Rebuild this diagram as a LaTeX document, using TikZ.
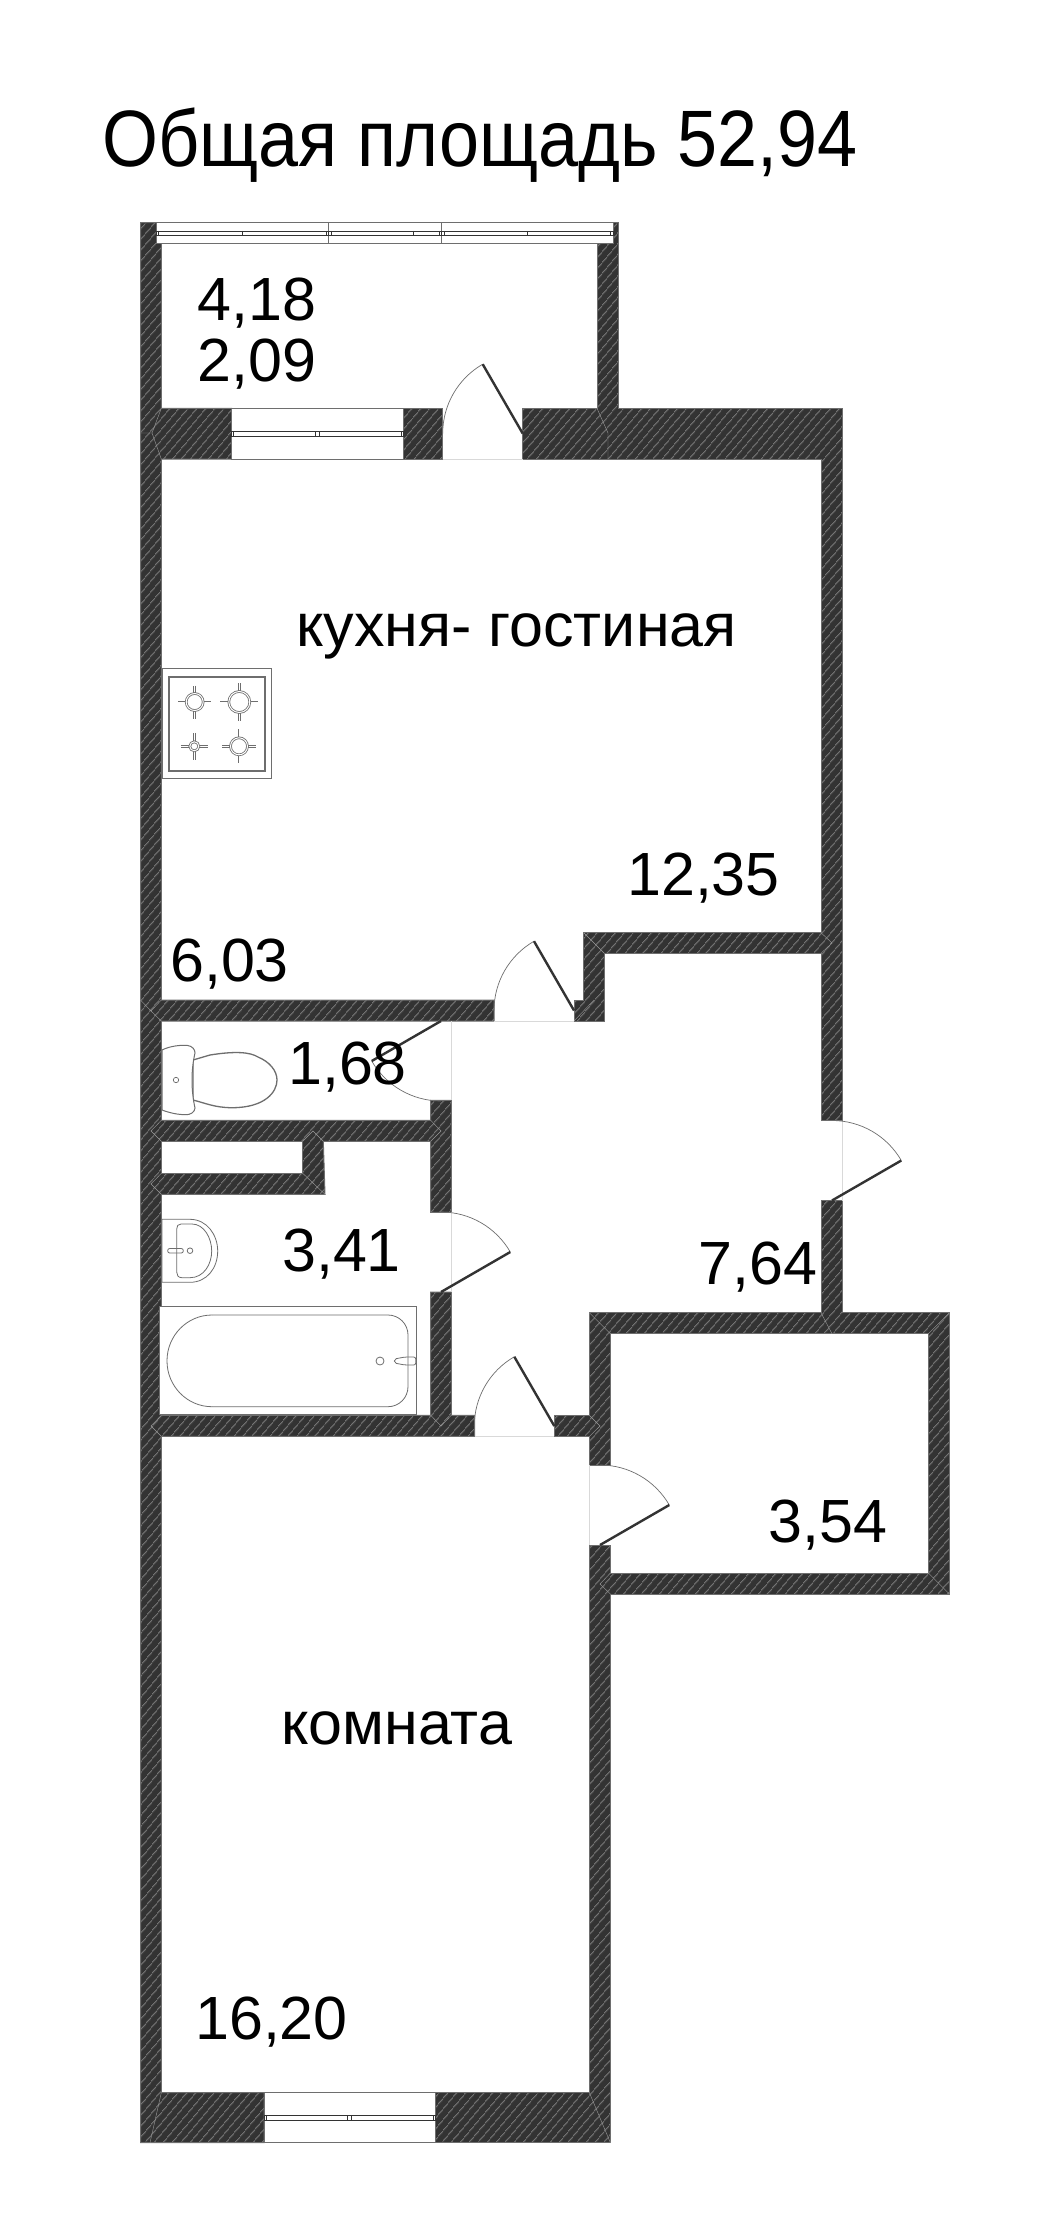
\documentclass[tikz,border=0pt]{standalone}
\usepackage{fontspec}
\setmainfont{Liberation Sans}
\usepackage{tikz}
\usetikzlibrary{patterns.meta}
\definecolor{walldark}{HTML}{333333}
\definecolor{wallline}{HTML}{6E6E6E}
\definecolor{hatchline}{HTML}{9A9A9A}
\tikzset{
  wall/.style={draw=wallline, line width=1pt, preaction={fill=walldark},
    pattern={Lines[angle=50, distance=6.5pt, line width=.6pt]}, pattern color=hatchline},
  wallseam/.style={draw=hatchline, line width=.4pt},
  opening/.style={fill=white, draw=wallline, line width=.8pt},
  sash/.style={draw=walldark, line width=.8pt, fill=white},
  doorleaf/.style={draw=walldark, line width=2.4pt},
  doorarc/.style={draw=wallline, line width=.7pt},
  threshold/.style={draw=black!15, line width=.6pt},
  fixture/.style={draw=wallline, line width=1pt, fill=white},
  burner/.style={draw=wallline, line width=.8pt, double=white, double distance=1pt},
  roomlabel/.style={anchor=base west, inner sep=0pt, font=\fontsize{61}{61}\selectfont},
  titlelabel/.style={anchor=base west, inner sep=0pt, font=\fontsize{80}{80}\selectfont}
}
\begin{document}
\begin{tikzpicture}[x=1pt, y=1pt, yscale=-1]
\path[use as bounding box, fill=white] (0,0) rectangle (1039,2218);
% walls
\path[wall] (140.5,222.7) -- (161.3,222.7) -- (161.3,408.3) -- (231.7,408.3) -- (231.7,459) -- (161.3,459)
  -- (161.3,1000) -- (494,1000) -- (494,1021) -- (161.3,1021) -- (161.3,1120.3) -- (430.7,1120.3)
  -- (430.7,1100.3) -- (451.3,1100.3) -- (451.3,1212.3) -- (430.7,1212.3) -- (430.7,1141.3) -- (323.3,1141.3)
  -- (325,1194.3) -- (161.3,1194.3) -- (161.3,1415.3) -- (430.7,1415.3) -- (430.7,1292) -- (451.3,1292)
  -- (451.3,1415.3) -- (474.7,1415.3) -- (474.7,1436.3) -- (161.3,1436.3) -- (161.3,2092.7) -- (264,2092.7)
  -- (264,2142.7) -- (140.5,2142.7) -- cycle;
\path[wall] (435.7,2092.7) -- (589.4,2092.7) -- (589.4,1545) -- (610.4,1545) -- (610.4,1573) -- (928.3,1573)
  -- (928.3,1333.8) -- (610.4,1333.8) -- (610.4,1465) -- (589.4,1465) -- (589.4,1436.4) -- (554.3,1436.4)
  -- (554.3,1415.4) -- (589.4,1415.4) -- (589.4,1312.8) -- (821,1312.8) -- (821,1200.5) -- (842,1200.5)
  -- (842,1312.8) -- (949.3,1312.8) -- (949.3,1594) -- (610.4,1594) -- (610.4,2142.7) -- (435.7,2142.7) -- cycle;
\path[wall] (522.7,408.3) -- (597,408.3) -- (597,222.7) -- (618,222.7) -- (618,408.3) -- (842,408.3)
  -- (842,1120.6) -- (821,1120.6) -- (821,953.3) -- (604.3,953.3) -- (604.3,1021) -- (574,1021) -- (574,1000)
  -- (583.7,1000) -- (583.7,932.7) -- (821,932.7) -- (821,459) -- (522.7,459) -- cycle;
\path[wall] (403.3,408.3) rectangle (442.7,459);
\draw[opening] (161.3,1141.3) rectangle (302.7,1173.3);
% joints between wall runs
\draw[wallseam] (161.3,408.3) -- (152,433) -- (161.3,459) (140.5,433) -- (152,433)
  (597,408.3) -- (608,433) -- (608,459) (161.3,1000) -- (151,1011) -- (161.3,1021) (140.5,1000) -- (151,1011)
  (161.3,1120.3) -- (151,1131) -- (161.3,1141.3) (161.3,1173.3) -- (151,1184) -- (161.3,1194.3)
  (161.3,1415.3) -- (151,1426) -- (161.3,1436.3) (430.7,1120.3) -- (441,1131) -- (430.7,1141.3)
  (302.7,1141.3) -- (313,1131) -- (323.3,1141.3) (302.7,1173.3) -- (325,1194.3)
  (583.7,932.7) -- (604.3,953.3) (821,932.7) -- (832,943) -- (821,953.3) (574,1021) -- (594,1000)
  (589.4,1312.8) -- (610.4,1333.8) (949.3,1312.8) -- (928.3,1333.8) (949.3,1594) -- (928.3,1573)
  (610.4,1573) -- (600,1584) -- (610.4,1594) (589.4,1415.4) -- (600,1426) -- (589.4,1436.4)
  (821,1312.8) -- (832,1333.8) (430.7,1415.3) -- (441,1426) -- (451.3,1415.3)
  (161.3,2092.7) -- (150,2142.7) (589.4,2092.7) -- (610.4,2142.7);
% windows
\draw[opening] (156,222.7) rectangle (613,243.3);
\draw[wallline, line width=.6pt] (328.3,222.7) -- (328.3,243.3) (441.7,222.7) -- (441.7,243.3);
\foreach \xa/\xb in {156/328.3, 328.3/441.7, 441.7/613}
  \draw[sash] (\xa,231) rectangle (\xb,235.3);
\foreach \xm in {158.5, 242, 326, 331, 413, 439, 444, 527, 610}
  \draw[walldark, line width=.8pt] (\xm,231) -- (\xm,235.3);
\draw[opening] (231.7,408.3) rectangle (403.3,459);
\draw[sash] (231.7,431) rectangle (403.3,436);
\foreach \xm in {233.5, 315.7, 319.7, 401.5}
  \draw[walldark, line width=.8pt] (\xm,431) -- (\xm,436);
\draw[opening] (264,2092.7) rectangle (435.7,2142.7);
\draw[sash] (264,2115) rectangle (435.7,2120.7);
\foreach \xm in {266, 347.5, 351.5, 433.5}
  \draw[walldark, line width=.8pt] (\xm,2115) -- (\xm,2120.7);
% doors
\draw[threshold] (442.7,459) -- (522.7,459) (494,1021) -- (574,1021) (451.3,1021) -- (451.3,1100.3)
  (451.3,1212.3) -- (451.3,1292) (474.7,1436.4) -- (554.3,1436.4) (842,1120.6) -- (842,1200.5) (589.4,1465) -- (589.4,1545);
\foreach \hx/\hy/\sa in {522.7/433.5/180, 574/1010.5/180, 441/1021/90, 441/1292/270, 554.3/1426/180, 832/1200.5/270, 600/1545/270}{
  \draw[doorarc] (\hx,\hy) ++(\sa:80) arc[start angle=\sa, delta angle=60, radius=80];
  \draw[doorleaf] (\hx,\hy) -- ++(\sa+60:80);
}
% stove
\draw[fixture, line width=1.2pt] (162.3,668.3) rectangle (271.7,778.3);
\draw[fixture, line width=1.8pt] (169,677.3) rectangle (264.7,771.3);
\foreach \bx/\by/\br/\bc in {194.7/702/8.5/16.5, 239.3/702/10.5/19, 194.3/746.3/4.5/13.5, 239/746.3/8.5/17}{
  \draw[burner] (\bx-\bc,\by) -- (\bx-\br,\by) (\bx+\br,\by) -- (\bx+\bc,\by)
    (\bx,\by-\bc) -- (\bx,\by-\br) (\bx,\by+\br) -- (\bx,\by+\bc);
  \draw[burner] (\bx,\by) circle (\br);
}
% toilet
\draw[fixture, line width=1.3pt] (193,1060) -- (210,1055) .. controls (235,1051) and (250,1052) .. (258,1057)
  .. controls (270,1062) and (277,1071) .. (277,1080) .. controls (277,1092) and (265,1107.7) .. (232,1107.7)
  .. controls (215,1107.7) and (205,1103) .. (193,1100) -- cycle;
\draw[fixture] (162,1050) .. controls (170,1046) and (180,1045) .. (187,1045.3)
  .. controls (193,1046) and (195,1050) .. (195,1053) .. controls (191,1070) and (191,1090) .. (195,1108)
  .. controls (195,1112) and (190,1115) .. (186,1114.7) .. controls (178,1114.7) and (170,1113) .. (162,1110) -- cycle;
\draw[wallline, line width=.7pt] (176,1080) circle (2.7);
% sink
\draw[fixture, line width=.8pt] (162,1219.3) -- (190,1219.3) .. controls (207,1219.3) and (217.7,1235) .. (217.7,1251)
  .. controls (217.7,1268) and (207,1282.3) .. (190,1282.3) -- (162,1282.3) -- cycle;
\draw[wallline, line width=.8pt] (181,1224) -- (192,1224) .. controls (204,1224) and (211.7,1238) .. (211.7,1251)
  .. controls (211.7,1264) and (204,1277.7) .. (190,1277.7) -- (182,1277.7) .. controls (178,1277.7) and (176.7,1275) .. (176.7,1272)
  -- (176.7,1229) .. controls (176.7,1226) and (178,1224) .. (181,1224);
\draw[wallline, line width=.8pt] (190,1250.7) circle (2.8);
\draw[wallline, line width=.8pt, rounded corners=2pt] (167.7,1248.5) rectangle (183.3,1253);
% bath
\draw[fixture] (159,1306.7) rectangle (416.3,1414.3);
\draw[fixture, line width=.8pt, rounded corners=20pt] (212,1315) -- (408,1315) -- (408,1406.7) -- (212,1406.7);
\draw[wallline, line width=.8pt] (212,1315) arc[start angle=270, delta angle=-180, x radius=45, y radius=45.85];
\draw[wallline, line width=.8pt] (380,1361) circle (4);
\draw[wallline, line width=.8pt, rounded corners=2pt] (394.3,1359) -- (405,1357) -- (415.7,1357) -- (415.7,1365) -- (405,1365) -- (394.3,1363) -- cycle;
% labels
\node[titlelabel] (totalarea) at (102,167) {\scalebox{.899}[1]{Общая площадь 52,94}};
\node[roomlabel] (balconytop) at (197.7,320) {4,18};
\node[roomlabel] (balconybottom) at (197.7,381) {2,09};
\node[roomlabel] (kitchen) at (296,646) {кухня- гостиная};
\node[roomlabel] (kitchenright) at (627,895.7) {12,35};
\node[roomlabel] (kitchenleft) at (170,981.7) {6,03};
\node[roomlabel] (wc) at (288,1084) {1,68};
\node[roomlabel] (bathroom) at (282,1271) {3,41};
\node[roomlabel] (hallway) at (698,1284) {7,64};
\node[roomlabel] (storage) at (768,1542) {3,54};
\node[roomlabel] (room) at (281,1744) {комната};
\node[roomlabel] (roomarea) at (195,2039) {16,20};
\end{tikzpicture}
\end{document}
